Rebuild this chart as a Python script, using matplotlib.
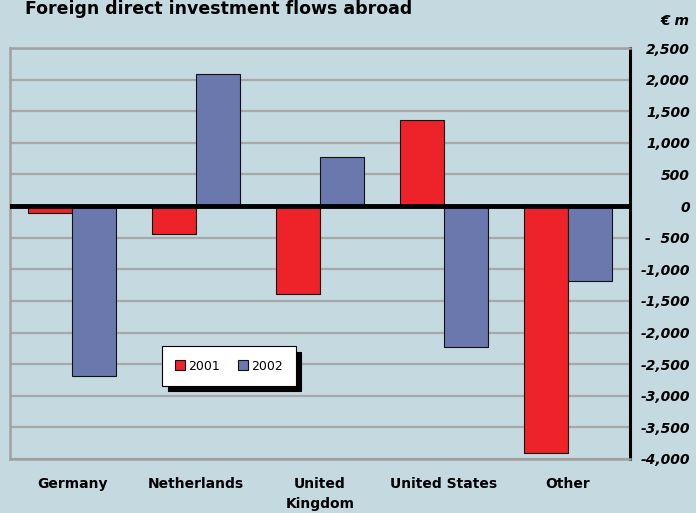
import matplotlib.pyplot as plt
import numpy as np

plt.rcParams['font.family'] = ['DejaVu Sans']

# adatok
orszagok = ['Germany', 'Netherlands', 'United\nKingdom', 'United States', 'Other']
ertek_2001 = [-110, -440, -1390, 1360, -3910]
ertek_2002 = [-2690, 2085, 775, -2230, -1190]
y_ticks = [2500, 2000, 1500, 1000, 500, 0, -500, -1000, -1500, -2000, -2500, -3000, -3500, -4000]
y_labels = ['2,500', '2,000', '1,500', '1,000', '500', '0', '-  500', '-1,000', '-1,500',
            '-2,000', '-2,500', '-3,000', '-3,500', '-4,000']

bg = '#c5d9e1'
fig = plt.figure(figsize=(6.96, 5.13), dpi=100, facecolor=bg)
ax = fig.add_axes([10/696, 54/513, 620/696, 411/513], facecolor=bg)

x = np.arange(len(orszagok))
w = 0.355
ax.bar(x - w/2, ertek_2001, w, color='#ee2229', edgecolor='#111111', linewidth=0.8, label='2001', zorder=3)
ax.bar(x + w/2, ertek_2002, w, color='#6b78ae', edgecolor='#111111', linewidth=0.8, label='2002', zorder=3)

ax.set_xlim(-0.5, 4.5)
ax.set_ylim(-4000, 2500)
ax.axhline(0, color='black', linewidth=3.5, zorder=4)
ax.grid(axis='y', color='#a8a8a8', linewidth=1.6, zorder=0)

ax.yaxis.tick_right()
ax.set_yticks(y_ticks)
ax.set_yticklabels(y_labels, fontweight='bold', fontstyle='italic', fontsize=10, ha='right')
ax.tick_params(axis='y', length=0, pad=43)
ax.set_xticks(x)
ax.set_xticklabels(orszagok, fontweight='bold', fontsize=10, linespacing=1.5)
ax.tick_params(axis='x', length=0, pad=13)

for s in ['left', 'top', 'bottom']:
    ax.spines[s].set_color('#a0a0a0')
    ax.spines[s].set_linewidth(1.8)
ax.spines['right'].set_color('black')
ax.spines['right'].set_linewidth(2.2)

fig.text(25/696, 1 - 9/513, 'Foreign direct investment flows abroad', fontsize=12.5,
         fontweight='bold', ha='left', va='center')
fig.text(690/696, 1 - 21/513, '€ m', fontsize=10, fontweight='bold', fontstyle='italic',
         ha='right', va='center')

leg = ax.legend(loc='center', bbox_to_anchor=(229/696, 1 - 366/513), bbox_transform=fig.transFigure,
                ncol=2, fancybox=False, framealpha=1, edgecolor='black', fontsize=9,
                handlelength=0.8, handleheight=0.8, handletextpad=0.2, columnspacing=1.5,
                borderpad=1.05, shadow={'color': 'black', 'alpha': 1, 'ox': 4, 'oy': -4})
leg.get_frame().set_linewidth(0.8)

plt.savefig('out.png', dpi=100, facecolor=bg)
